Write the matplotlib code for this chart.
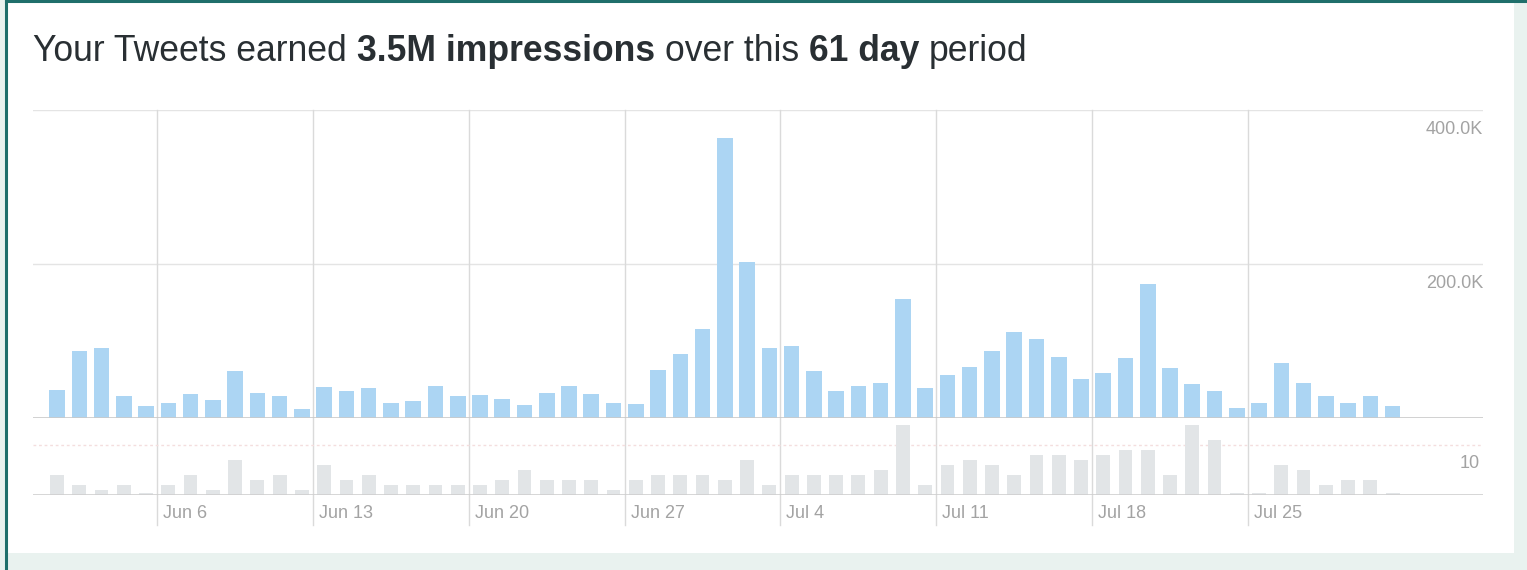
import matplotlib
matplotlib.use('Agg')
import matplotlib.pyplot as plt
from matplotlib.patches import Rectangle
from matplotlib.lines import Line2D
import numpy as np

# daily impressions (thousands), Jun 1 .. Jul 31
impressions_k = [36, 87, 91, 29, 15, 19, 31, 24, 61, 32, 29, 12, 40, 35, 39, 20, 22, 41, 28, 30, 25,
                 17, 33, 41, 31, 19, 18, 62, 83, 115,
                 364, 203, 91, 93, 61, 35, 41, 45, 154, 39, 56, 66, 87,
                 112, 102, 79, 51, 58, 78, 174, 65, 44, 35, 13, 19, 71, 45, 29, 19, 28, 15]
# tweets per day
tweets = [4, 2, 1, 2, 0.5, 2, 4, 1, 7, 3, 4, 1, 6, 3, 4, 2, 2, 2, 2, 2, 3,
          5, 3, 3, 3, 1, 3, 4, 4, 4,
          3, 7, 2, 4, 4, 4, 4, 5, 14, 2, 6, 7, 6,
          4, 8, 8, 7, 8, 9, 9, 4, 14, 11, 0.5, 0.5, 6, 5, 2, 3, 3, 0.5]
week_idx = [5, 12, 19, 26, 33, 40, 47, 54]
week_labels = ['Jun 6', 'Jun 13', 'Jun 20', 'Jun 27', 'Jul 4', 'Jul 11', 'Jul 18', 'Jul 25']
imp_ticks = [200, 400]
imp_tick_labels = ['200.0K', '400.0K']
tweet_ticks = [10]
tweet_tick_labels = ['10']

W, H = 1527, 570
FONT = 'Liberation Sans'
BLUE = '#acd5f3'
GRAY_BAR = '#e2e5e7'
GRID = '#dadada'
LABEL = '#a3a3a3'


def fx(x):
    return x / W


def fy(y):
    return 1 - y / H


fig = plt.figure(figsize=(W / 100, H / 100), dpi=100, facecolor='#e9f2ef')

# white card + teal border
fig.add_artist(Rectangle((fx(7), fy(553)), fx(1507), 551 / H, transform=fig.transFigure,
                         facecolor='white', edgecolor='none', zorder=-5))
fig.add_artist(Line2D([fx(6), fx(6)], [0, 1], color='#1f6f6b', lw=2.2, zorder=-4))
fig.add_artist(Line2D([fx(6), 1], [fy(1), fy(1)], color='#1f6f6b', lw=2.2, zorder=-4))

x = np.arange(len(impressions_k))
xlim = (-1.08, 64.06)

# top: impressions
ax = fig.add_axes([fx(33), fy(418), 1450 / W, 308 / H])
ax.set_facecolor('none')
ax.set_xlim(*xlim)
ax.set_ylim(0, 400)
ax.axis('off')
ax.bar(x, impressions_k, width=0.7, color=BLUE, zorder=2)
for t in imp_ticks:
    ax.axhline(t, color='#e4e4e4', lw=1.0, zorder=1)
ax.axhline(0, color='#c9c9c9', lw=1.2, zorder=3)
for i in week_idx:
    ax.axvline(i - 0.5, ymin=-(525 - 418) / 308, ymax=1, color=GRID, lw=1.0, clip_on=False, zorder=1)
for t, lab in zip(imp_ticks, imp_tick_labels):
    ax.annotate(lab, xy=(1, t), xycoords=('axes fraction', 'data'), xytext=(0, -19),
                textcoords='offset pixels', ha='right', va='center', fontsize=13, color=LABEL, family=FONT)

# bottom: tweets
ax2 = fig.add_axes([fx(33), fy(495), 1450 / W, 77 / H])
ax2.set_facecolor('none')
ax2.set_xlim(*xlim)
ax2.set_ylim(0, 15.5)
ax2.axis('off')
ax2.bar(x, tweets, width=0.62, color=GRAY_BAR, zorder=2)
for t in tweet_ticks:
    ax2.axhline(t, color='#f4dede', lw=1.0, ls=(0, (2, 2)), zorder=1)
ax2.axhline(0, color='#cfcfcf', lw=1.2, zorder=3)
for t, lab in zip(tweet_ticks, tweet_tick_labels):
    ax2.annotate(lab, xy=(1, t), xycoords=('axes fraction', 'data'), xytext=(-3, -18),
                 textcoords='offset pixels', ha='right', va='center', fontsize=13, color=LABEL, family=FONT)
for i, lab in zip(week_idx, week_labels):
    ax2.annotate(lab, xy=(i - 0.5, 0), xycoords=('data', 'axes fraction'), xytext=(6, -18),
                 textcoords='offset pixels', ha='left', va='center', fontsize=13, color=LABEL, family=FONT)

# title built from regular and bold pieces
pieces = [('Your Tweets earned', 'normal'), ('3.5M impressions', 'bold'), ('over this', 'normal'),
          ('61 day', 'bold'), ('period', 'normal')]
fs = 25.6
renderer = fig.canvas.get_renderer()
cur = 33
space = 0.278 * fs * 100 / 72
for txt, wt in pieces:
    t = fig.text(fx(cur), fy(61), txt, fontsize=fs, fontweight=wt, family=FONT,
                 color='#292f33', ha='left', va='baseline')
    bb = t.get_window_extent(renderer)
    cur = bb.x1 + space

plt.savefig('out.png', dpi=100, facecolor=fig.get_facecolor())
